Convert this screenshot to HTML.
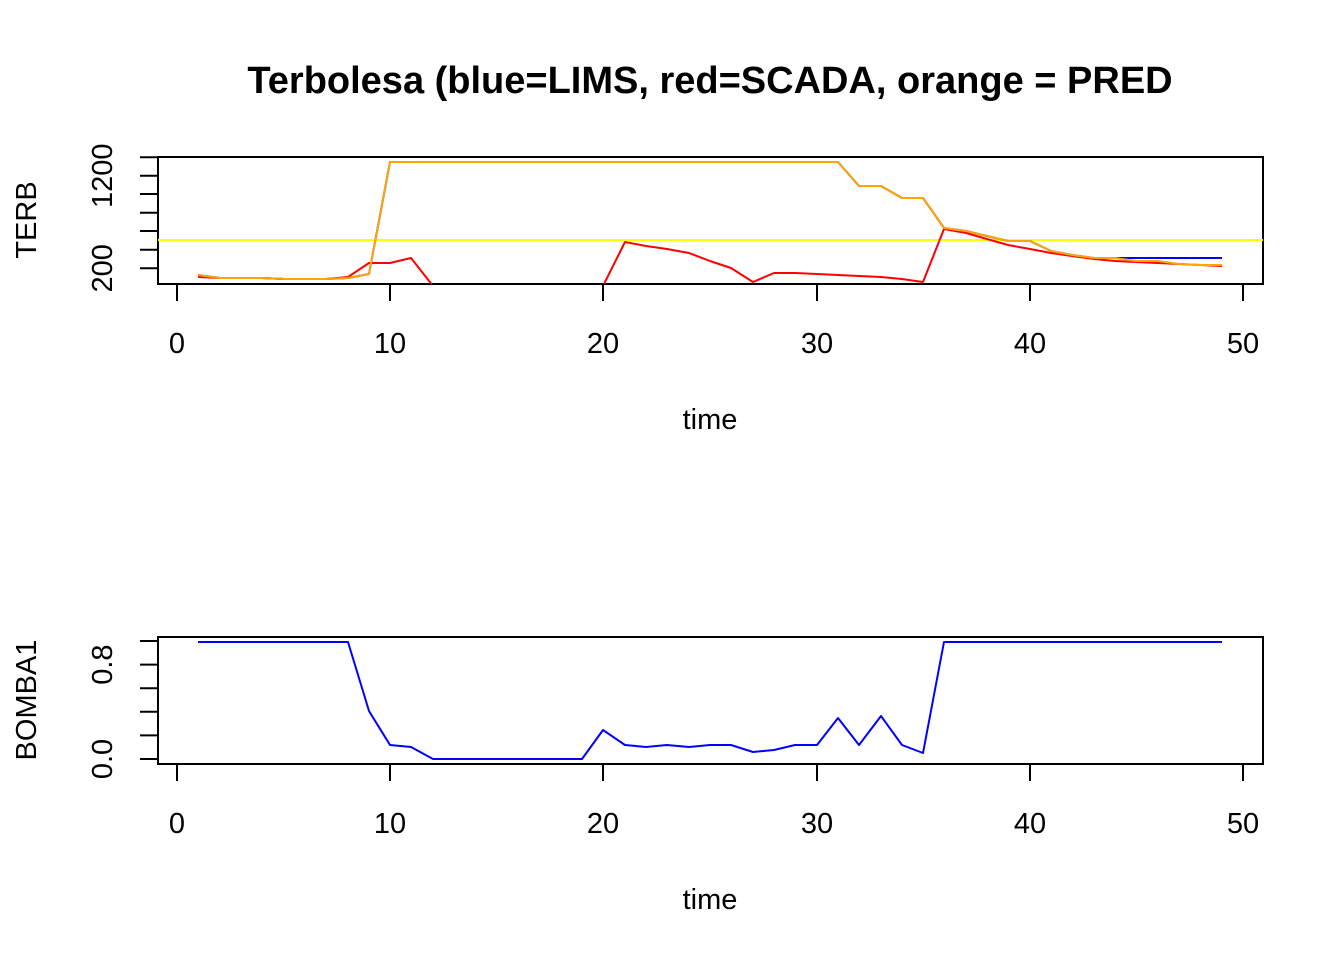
<!DOCTYPE html>
<html><head><meta charset="utf-8"><style>body{margin:0;background:#fff}svg{display:block}</style></head><body>
<svg width="1344" height="960" xmlns="http://www.w3.org/2000/svg" font-family="Liberation Sans, sans-serif">
<defs><clipPath id="c1"><rect x="158" y="157" width="1105" height="127"/></clipPath></defs>
<text x="710" y="93" font-size="38" font-weight="bold" text-anchor="middle">Terbolesa (blue=LIMS, red=SCADA, orange = PRED</text>
<g stroke="#000" stroke-width="2" fill="none">
<rect x="158" y="157" width="1105" height="127"/>
<path d="M177 284v17M390 284v17M603 284v17M817 284v17M1030 284v17M1243 284v17M177 284H1243"/>
<path d="M158 157.3h-18M158 175.7h-18M158 194h-18M158 212.7h-18M158 231h-18M158 249.7h-18M158 268.3h-18M158 157.3V268.3"/>
<rect x="158" y="637" width="1105" height="127"/>
<path d="M177 764v17M390 764v17M603 764v17M817 764v17M1030 764v17M1243 764v17M177 764H1243"/>
<path d="M158 641h-18M158 664.6h-18M158 688.2h-18M158 711.8h-18M158 735.4h-18M158 759h-18M158 641V759"/>
</g>
<g font-size="29" text-anchor="middle">
<text x="177" y="353">0</text><text x="390" y="353">10</text><text x="603" y="353">20</text><text x="817" y="353">30</text><text x="1030" y="353">40</text><text x="1243" y="353">50</text>
<text x="177" y="833">0</text><text x="390" y="833">10</text><text x="603" y="833">20</text><text x="817" y="833">30</text><text x="1030" y="833">40</text><text x="1243" y="833">50</text>
<text x="710" y="429">time</text><text x="710" y="909">time</text>
<text transform="translate(112,268.3) rotate(-90)">200</text>
<text transform="translate(112,175.7) rotate(-90)">1200</text>
<text transform="translate(112,759) rotate(-90)">0.0</text>
<text transform="translate(112,664.6) rotate(-90)">0.8</text>
<text transform="translate(36,220) rotate(-90)">TERB</text>
<text transform="translate(36,700) rotate(-90)">BOMBA1</text>
</g>
<line x1="158" y1="240" x2="1263" y2="240" stroke="#ffff00" stroke-width="2"/>
<g clip-path="url(#c1)" fill="none" stroke-width="2" stroke-linejoin="round">
<polyline stroke="#0000ff" points="198,275 220,278 241,278 262,278 284,279 305,279 326,279 348,278 369,274 390,162 838,162 859,186 881,186 902,198 923,198 944,228 966,231 987,236 1008,241 1030,241 1051,251 1072,255 1094,258 1222,258"/>
<polyline stroke="#ff0000" points="198,277 220,278 241,278 262,278 284,279 305,279 326,279 348,277 369,263 390,263 411,258 433,286"/>
<polyline stroke="#ff0000" points="603,286 625,242 646,246 667,249 689,253 710,261 731,268 753,282 774,273 795,273 817,274 838,275 859,276 881,277 902,279 923,282 944,229 966,233 987,239 1008,245 1030,249 1051,253 1072,256 1094,259 1115,261 1136,262 1158,263 1179,264 1200,265 1222,266"/>
<polyline stroke="#ffa500" points="198,275 220,278 241,278 262,278 284,279 305,279 326,279 348,278 369,274 390,162 838,162 859,186 881,186 902,198 923,198 944,228 966,231 987,236 1008,241 1030,241 1051,251 1072,255 1094,258 1115,258 1136,261 1158,261 1179,264 1200,265 1222,265"/>
</g>
<polyline fill="none" stroke="#0000ff" stroke-width="2" stroke-linejoin="round" points="198,642 348,642 369,711 390,745 411,747 433,759 582,759 603,730 625,745 646,747 667,745 689,747 710,745 731,745 753,752 774,750 795,745 817,745 838,718 859,745 881,716 902,745 923,753 944,642 1222,642"/>
</svg>
</body></html>
